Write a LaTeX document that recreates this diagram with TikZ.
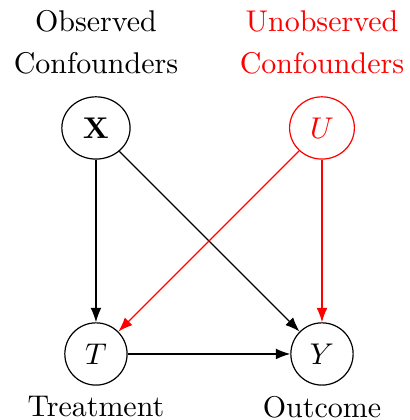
\documentclass[tikz,border=0pt]{standalone}
\usepackage{amsmath,amssymb}
\usepackage{tikz}
\usetikzlibrary{arrows.meta,positioning,shapes.geometric}

\begin{document}
\begin{tikzpicture}[x=1cm,y=1cm,>=Latex,
 var/.style={ellipse,draw,minimum size=7.3mm},
 lbl/.style={align=center,inner sep=3.33pt},
 edge/.style={->,black},
 hidden/.style={->,red}]
\useasboundingbox (-1.125,-0.774) rectangle (3.68,4.15);
 \node[var] (T) at (0,0) {$T$};
 \node[var] (Y) at (2.65,0) {$Y$};
 \node[var,minimum width=8mm] (X) at (0,2.65) {$\mathbf{X}$};
 \node[var,red,minimum width=7.6mm] (U) at (2.65,2.65) {$U$};
 \node[lbl,above=1.3mm of X] (Xl) {Observed\\[2pt]Confounders};
 \node[lbl,red,above=1.3mm of U] (Ul) {Unobserved\\[2pt]Confounders};
 \node[lbl,below=0pt of T] (Tl) {Treatment};
 \node[lbl,below=0pt of Y] (Yl) {Outcome};
 \draw[edge] (X) -- (T);
 \draw[edge] (X) -- (Y);
 \draw[edge] (T) -- (Y);
 \draw[hidden] (U) -- (T);
 \draw[hidden] (U) -- (Y);
\end{tikzpicture}
\end{document}
